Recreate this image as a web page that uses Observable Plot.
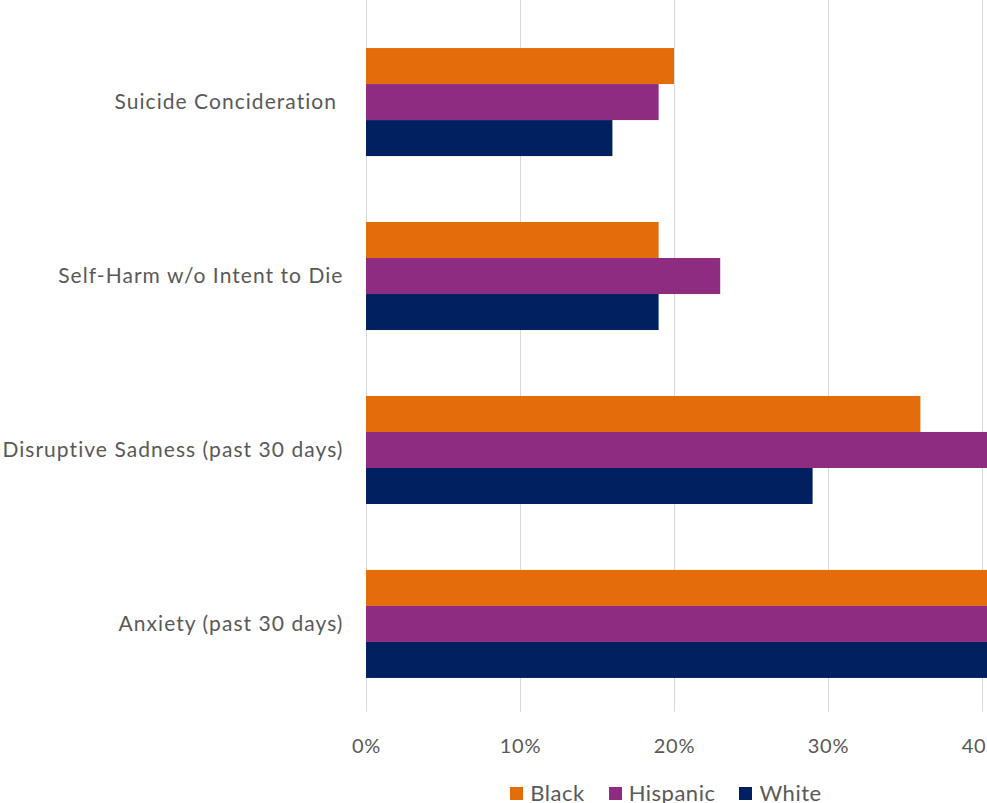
<!DOCTYPE html>
<html>
<head>
<meta charset="utf-8">
<script src="https://cdn.jsdelivr.net/npm/d3@7"></script>
<script src="https://cdn.jsdelivr.net/npm/@observablehq/plot@0.6"></script>
<style>
  html, body { margin: 0; padding: 0; overflow: hidden; background: #fff; }
  #wrap { width: 1332px; font-family: Lato, "Open Sans", sans-serif; color: #595959; }
  #wrap svg text { letter-spacing: 0.8px; }
  #wrap svg g[aria-label="fy-axis tick label"] text { letter-spacing: 1.05px; }
  #legend { width: 1332px; display: flex; justify-content: center; gap: 24px; font-size: 22px; line-height: 22px; letter-spacing: 0.5px; margin-top: 12px; }
  #legend span.sw { display: inline-block; width: 13px; height: 13px; margin-right: 7px; }
  #legend .item { display: flex; align-items: center; }
</style>
</head>
<body>
<div id="wrap"></div>
<script>
const categories = ["Suicide Concideration\u00a0", "Self-Harm w/o Intent to Die", "Disruptive Sadness (past 30 days)", "Anxiety (past 30 days)"];
const races = ["Black", "Hispanic", "White"];
const black = [0.20, 0.19, 0.36, 0.47];
const hispanic = [0.19, 0.23, 0.44, 0.52];
const white = [0.16, 0.19, 0.29, 0.45];
const xTicks = [0, 0.1, 0.2, 0.3, 0.4, 0.5, 0.6];
const colors = ["#E46C0A", "#8E2C82", "#002060"];

const series = [black, hispanic, white];
const data = categories.flatMap((c, i) => races.map((r, j) => ({category: c, race: r, value: series[j][i]})));

const chart = Plot.plot({
  width: 1332,
  height: 770,
  marginLeft: 366,
  marginRight: 42,
  marginTop: 15,
  marginBottom: 59,
  style: {fontFamily: "Lato, 'Open Sans', sans-serif", fontSize: "21px", color: "#595959", background: "#fff"},
  x: {domain: [0, 0.6]},
  y: {domain: races, axis: null, padding: 0, round: false},
  fy: {domain: categories, paddingInner: 0.379, paddingOuter: 0.19, round: false, label: null},
  color: {domain: races, range: colors},
  marks: [
    Plot.gridX(xTicks, {stroke: "#d9d9d9", strokeOpacity: 1, insetTop: -48, insetBottom: -34}),
    Plot.barX(data, {x: "value", y: "race", fy: "category", fill: "race"}),
    Plot.axisX({ticks: xTicks, tickSize: 0, tickPadding: 60, tickFormat: d3.format(".0%"), label: null, fontSize: 20}),
    Plot.axisFy({anchor: "left", tickSize: 0, tickPadding: 23, label: null})
  ]
});
const wrap = document.getElementById("wrap");
wrap.appendChild(chart);

const legend = document.createElement("div");
legend.id = "legend";
const cs = chart.scale("color");
races.forEach((r) => {
  const item = document.createElement("div");
  item.className = "item";
  const sw = document.createElement("span");
  sw.className = "sw";
  sw.style.background = cs.apply(r);
  item.appendChild(sw);
  item.appendChild(document.createTextNode(r));
  legend.appendChild(item);
});
wrap.appendChild(legend);
</script>
</body>
</html>
